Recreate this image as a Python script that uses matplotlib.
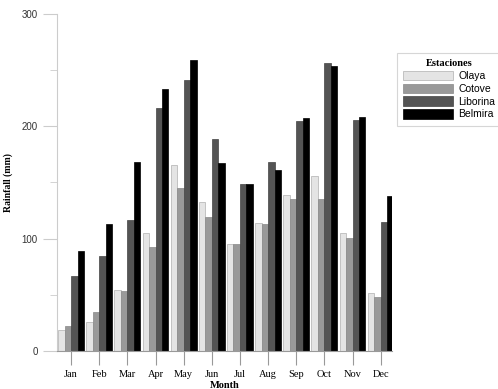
import numpy as np
import matplotlib
matplotlib.use('Agg')
import matplotlib.pyplot as plt
from matplotlib.ticker import MultipleLocator

months = ['Jan', 'Feb', 'Mar', 'Apr', 'May', 'Jun', 'Jul', 'Aug', 'Sep', 'Oct', 'Nov', 'Dec']
stations = ['Olaya', 'Cotove', 'Liborina', 'Belmira']
olaya = [19, 26, 54, 105, 166, 133, 95, 114, 139, 156, 105, 52]
cotove = [22, 35, 53, 93, 145, 119, 95, 113, 135, 135, 101, 48]
liborina = [67, 85, 117, 216, 241, 189, 149, 168, 205, 256, 206, 115]
belmira = [89, 113, 168, 233, 259, 167, 149, 161, 207, 254, 208, 138]

colors = ['#e4e4e4', '#999999', '#545454', '#000000']
edges = ['#b0b0b0', '#888888', '#444444', '#000000']

fig = plt.figure(figsize=(4.98, 3.89), dpi=100)
ax = fig.add_axes([0.1145, 0.0977, 0.6725, 0.8663])

x = np.arange(len(months))
w = 0.23
for i, (vals, name) in enumerate(zip([olaya, cotove, liborina, belmira], stations)):
    ax.bar(x + (i - 1.5) * w, vals, width=w, color=colors[i], edgecolor=edges[i],
           linewidth=0.5, label=name)

ax.set_xlim(-0.5, 11.4)
ax.set_ylim(0, 300)
ax.set_xticks(x)
ax.set_xticklabels(months, family='Liberation Serif', fontsize=7.5)
ax.yaxis.set_major_locator(MultipleLocator(100))
ax.yaxis.set_minor_locator(MultipleLocator(50))
for lab in ax.get_yticklabels():
    lab.set_family('Liberation Sans')
    lab.set_fontsize(7)
    lab.set_color('#333333')

for s in ['top', 'right']:
    ax.spines[s].set_visible(False)
ax.spines['left'].set_color('#cccccc')
ax.spines['bottom'].set_color('#999999')
ax.tick_params(axis='y', which='major', length=10, color='#cccccc', pad=4)
ax.tick_params(axis='y', which='minor', length=5, color='#cccccc')
ax.tick_params(axis='x', length=10, color='#999999', pad=4)

ax.set_xlabel('Month', family='Liberation Serif', fontweight='bold', fontsize=7.5, labelpad=1)
ax.set_ylabel('Rainfall (mm)', family='Liberation Serif', fontweight='bold', fontsize=7, labelpad=6)

leg = fig.legend(loc='upper left', bbox_to_anchor=(0.797, 0.864), borderaxespad=0,
                 frameon=True, fancybox=False, edgecolor='#cccccc',
                 handlelength=4.8, handleheight=1.0, labelspacing=0.25,
                 handletextpad=0.5, borderpad=0.6,
                 prop={'family': 'Liberation Sans', 'size': 7.5})
leg.set_title('Estaciones', prop={'family': 'Liberation Serif', 'weight': 'bold', 'size': 7.5})
leg.get_frame().set_linewidth(0.8)

fig.savefig('out.png', dpi=100)
